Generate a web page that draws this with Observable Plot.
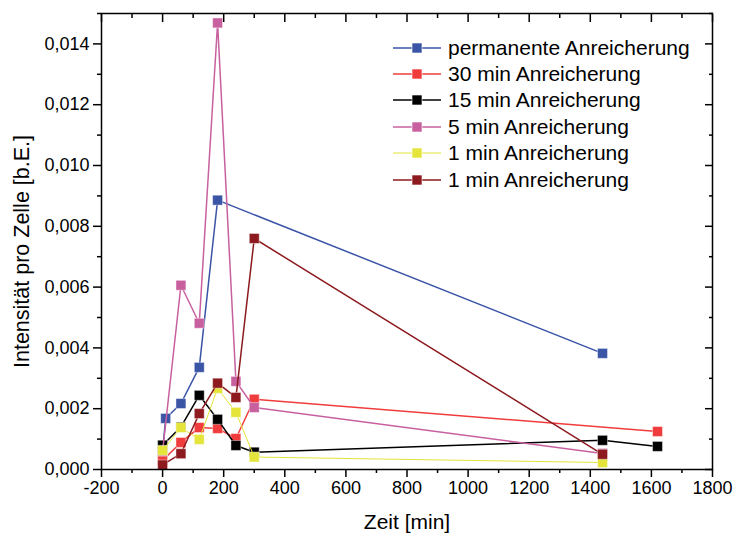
<!DOCTYPE html>
<html>
<head>
<meta charset="utf-8">
<script src="https://cdn.jsdelivr.net/npm/d3@7"></script>
<script src="https://cdn.jsdelivr.net/npm/@observablehq/plot@0.6"></script>
<style>
  html, body { margin: 0; padding: 0; background: #fff; }
  #wrap { position: relative; width: 734px; height: 536px; font-family: "Liberation Sans", Arial, sans-serif; }
  #legend { position: absolute; left: 392px; top: 34.5px; }
  .row { display: flex; align-items: center; height: 26.4px; font-size: 21px; color: #000; white-space: nowrap; }
  .row svg { margin-right: 6px; }
</style>
</head>
<body>
<div id="wrap"><div id="legend"></div></div>
<script>
// ---- data ----
const seriesNames = ["permanente Anreicherung", "30 min Anreicherung", "15 min Anreicherung", "5 min Anreicherung", "1 min Anreicherung", "1 min Anreicherung "];
const seriesColors = ["#3a54a6", "#f03c3c", "#000000", "#c8609f", "#e4e43a", "#8c1a1e"];
const lineWidths = [1.5, 1.5, 1.5, 1.5, 1, 1.5];

const tPermanent = [0, 10, 60, 120, 180, 1440];
const vPermanent = [0.0006, 0.00168, 0.00217, 0.00336, 0.00886, 0.00382];

const t30 = [0, 60, 120, 180, 240, 300, 1620];
const v30 = [0.0003, 0.00089, 0.00138, 0.00135, 0.00102, 0.00231, 0.00125];

const t15 = [0, 60, 120, 180, 240, 300, 1440, 1620];
const v15 = [0.0008, 0.0014, 0.00244, 0.00165, 0.00079, 0.00057, 0.00096, 0.00076];

const t5 = [0, 60, 120, 180, 240, 300, 1440];
const v5 = [0.0006, 0.00606, 0.00481, 0.01469, 0.0029, 0.00204, 0.00053];

const t1a = [0, 60, 120, 180, 240, 300, 1440];
const v1a = [0.00063, 0.00138, 0.00099, 0.00267, 0.00188, 0.00041, 0.00023];

const t1b = [0, 60, 120, 180, 240, 300, 1440];
const v1b = [0.00015, 0.00052, 0.00184, 0.00284, 0.00237, 0.0076, 0.0005];

const xMajorTicks = d3.range(-200, 1801, 200);
const xMinorTicks = d3.range(-100, 1800, 200);
const yMajorTicks = d3.range(0, 0.0141, 0.002);
const yMinorTicks = d3.range(0.001, 0.0151, 0.002);

const xTitle = "Zeit [min]";
const yTitle = "Intensität pro Zelle [b.E.]";

// ---- build table ----
const allT = [tPermanent, t30, t15, t5, t1a, t1b];
const allV = [vPermanent, v30, v15, v5, v1a, v1b];
const series = seriesNames.map((name, i) => ({
  name, color: seriesColors[i], width: lineWidths[i],
  rows: allT[i].map((t, j) => ({t, v: allV[i][j]}))
}));

const fmtY = d => d3.format(".3f")(d).replace(".", ",");
const noText = () => "";

const marks = [];
series.forEach(s => {
  marks.push(Plot.line(s.rows, {x: "t", y: "v", stroke: s.color, strokeWidth: s.width}));
  marks.push(Plot.dot(s.rows, {x: "t", y: "v", symbol: "square", r: 5.6, fill: s.color, stroke: "white", strokeWidth: 0.6, strokeOpacity: 0.7}));
});

const axisCommon = {label: null, stroke: "black", strokeWidth: 1.5};
marks.push(
  Plot.frame({stroke: "black", strokeWidth: 1.5}),
  Plot.axisX(xMajorTicks, {...axisCommon, anchor: "bottom", tickSize: 8, tickPadding: 4, fontSize: 18, tickFormat: d => String(d)}),
  Plot.axisX(xMinorTicks, {...axisCommon, anchor: "bottom", tickSize: 4, tickFormat: noText}),
  Plot.axisX(xMajorTicks, {...axisCommon, anchor: "top", tickSize: -8, tickFormat: noText}),
  Plot.axisX(xMinorTicks, {...axisCommon, anchor: "top", tickSize: -4, tickFormat: noText}),
  Plot.axisY(yMajorTicks, {...axisCommon, anchor: "left", tickSize: 8, tickPadding: 4, fontSize: 18, tickFormat: fmtY}),
  Plot.axisY(yMinorTicks, {...axisCommon, anchor: "left", tickSize: 4, tickFormat: noText}),
  Plot.axisY(yMajorTicks, {...axisCommon, anchor: "right", tickSize: -8, tickFormat: noText}),
  Plot.axisY(yMinorTicks, {...axisCommon, anchor: "right", tickSize: -4, tickFormat: noText}),
  Plot.text([xTitle], {frameAnchor: "bottom", textAnchor: "middle", lineAnchor: "middle", dy: 53, fontSize: 21, fill: "black"}),
  Plot.text([yTitle], {frameAnchor: "left", textAnchor: "middle", lineAnchor: "middle", dx: -79, dy: 10, rotate: -90, fontSize: 21.5, fill: "black"})
);

const chart = Plot.plot({
  width: 734,
  height: 536,
  marginLeft: 101,
  marginRight: 22,
  marginTop: 13,
  marginBottom: 67,
  style: {fontFamily: "'Liberation Sans', Arial, sans-serif", background: "white", color: "black"},
  x: {domain: [-200, 1800]},
  y: {domain: [0, 0.015]},
  marks
});
const wrap = document.getElementById("wrap");
wrap.insertBefore(chart, wrap.firstChild);

// ---- legend ----
const legend = document.getElementById("legend");
series.forEach(s => {
  const row = document.createElement("div");
  row.className = "row";
  row.innerHTML = `<svg width="50" height="14"><line x1="1" x2="49" y1="7" y2="7" stroke="${s.color}" stroke-width="${s.width}"/><rect x="20" y="2" width="10" height="10" fill="${s.color}" stroke="white" stroke-width="0.6"/></svg><span>${s.name.trim()}</span>`;
  legend.appendChild(row);
});
</script>
</body>
</html>
